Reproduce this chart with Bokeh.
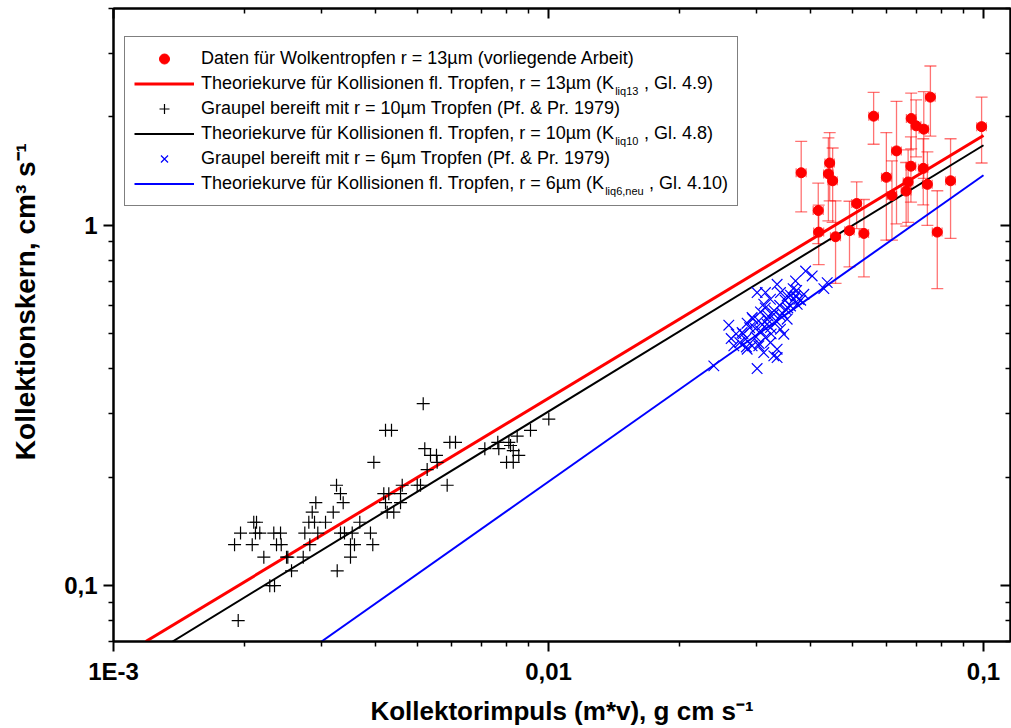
import math
from bokeh.plotting import figure
from bokeh.models import (Range1d, FixedTicker, LogAxis, Whisker, TeeHead, ColumnDataSource,
                          Legend, LegendItem, Label, CustomJSTickFormatter)
from bokeh.embed import file_html
from bokeh.resources import INLINE

# ---------------- data ----------------
red_x = [0.0381, 0.0417, 0.0418, 0.0443, 0.0440, 0.0450, 0.0457, 0.0492, 0.0511, 0.0531,
         0.0559, 0.0598, 0.0616, 0.0631, 0.0664, 0.0671, 0.0681, 0.0682, 0.0700, 0.0727,
         0.0729, 0.0743, 0.0755, 0.0783, 0.0840, 0.0990]
red_y = [1.40, 1.10, 0.958, 1.49, 1.39, 1.33, 0.93, 0.967, 1.15, 0.95,
         2.01, 1.36, 1.21, 1.61, 1.245, 1.32, 1.46, 1.98, 1.89, 1.44,
         1.85, 1.30, 2.27, 0.958, 1.33, 1.88]
red_yerr = [0.31, 0.21, 0.18, 0.32, 0.36, 0.31, 0.24, 0.20, 0.17, 0.23,
            0.33, 0.45, 0.30, 0.60, 0.25, 0.30, 0.30, 0.35, 0.34, 0.30,
            0.50, 0.30, 0.50, 0.29, 0.41, 0.39]
red_xerr = [0.0010, 0.0011, 0.0011, 0.0011, 0.0011, 0.0011, 0.0012, 0.0012, 0.0013, 0.0013,
            0.0014, 0.0015, 0.0015, 0.0016, 0.0017, 0.0017, 0.0017, 0.0017, 0.0018, 0.0018,
            0.0018, 0.0019, 0.0019, 0.0020, 0.0021, 0.0025]

black_x = [0.001898, 0.001935, 0.001959, 0.002084, 0.002101, 0.002132, 0.002120, 0.002169, 0.002216, 0.002287,
           0.002345, 0.002336, 0.002421, 0.002370, 0.002430, 0.002499, 0.002516, 0.002566, 0.002730, 0.002753,
           0.002812, 0.002827, 0.002863, 0.002898, 0.002918, 0.002949, 0.003072, 0.003200, 0.003256, 0.003268,
           0.003325, 0.003373, 0.003325, 0.003396, 0.003506, 0.003506, 0.003538, 0.003581, 0.003683, 0.003897,
           0.003945, 0.003967, 0.004182, 0.004220, 0.004258, 0.004294, 0.004220, 0.004356, 0.004409, 0.004569,
           0.004569, 0.004610, 0.004991, 0.005079, 0.005152, 0.005195, 0.005261, 0.005354, 0.005527, 0.005547,
           0.005849, 0.005931, 0.006112, 0.007139, 0.007646, 0.007687, 0.008008, 0.008107, 0.008180, 0.008298,
           0.008472, 0.008544, 0.008298, 0.009091, 0.010016]
black_y = [0.13, 0.08, 0.14, 0.13, 0.15, 0.15, 0.14, 0.14, 0.12, 0.10,
           0.10, 0.14, 0.14, 0.13, 0.13, 0.12, 0.12, 0.11, 0.12, 0.14,
           0.15, 0.13, 0.16, 0.15, 0.17, 0.14, 0.15, 0.16, 0.19, 0.11,
           0.18, 0.17, 0.14, 0.14, 0.13, 0.12, 0.14, 0.13, 0.15, 0.14,
           0.13, 0.22, 0.18, 0.17, 0.16, 0.18, 0.27, 0.27, 0.16, 0.18,
           0.17, 0.19, 0.19, 0.19, 0.32, 0.24, 0.21, 0.23, 0.23, 0.22,
           0.19, 0.25, 0.25, 0.24, 0.25, 0.24, 0.22, 0.25, 0.245, 0.237,
           0.26, 0.23, 0.22, 0.27, 0.29]

blue_x = [0.02399, 0.03017, 0.02597, 0.02630, 0.02667, 0.02753, 0.02787, 0.02862, 0.02938, 0.02990,
          0.03044, 0.03071, 0.03125, 0.03017, 0.03153, 0.03238, 0.03354, 0.03414, 0.03537, 0.03651,
          0.03697, 0.03763, 0.03863, 0.04038, 0.04295, 0.04372, 0.03153, 0.03238, 0.03354, 0.03296,
          0.03125, 0.03044, 0.03414, 0.03475, 0.03238, 0.03181, 0.03296, 0.03414, 0.03507, 0.03600,
          0.03664, 0.03730, 0.03354, 0.02938, 0.02837, 0.02862, 0.03181, 0.03071, 0.03537, 0.03697,
          0.03900, 0.0280, 0.0290, 0.0300, 0.0310, 0.0320, 0.0330, 0.0340, 0.0350, 0.0360,
          0.0345, 0.0325, 0.0305, 0.0295, 0.0315, 0.0335, 0.0355, 0.0372, 0.0380, 0.0285,
          0.0270]
blue_y = [0.4075, 0.4006, 0.5284, 0.4853, 0.4632, 0.4731, 0.5043, 0.5352, 0.5549, 0.5173,
          0.5433, 0.5754, 0.6042, 0.6510, 0.6510, 0.6238, 0.6863, 0.6510, 0.6372, 0.6676,
          0.7011, 0.6238, 0.6440, 0.7238, 0.6676, 0.6937, 0.4884, 0.4731, 0.4534, 0.4344,
          0.4437, 0.4632, 0.5151, 0.4989, 0.5206, 0.5491, 0.5669, 0.5609, 0.5852, 0.5978,
          0.6238, 0.6042, 0.4298, 0.4632, 0.4833, 0.4534, 0.5318, 0.5097, 0.5491, 0.6372,
          0.747, 0.50, 0.52, 0.49, 0.53, 0.56, 0.58, 0.60, 0.62, 0.64,
          0.57, 0.50, 0.47, 0.55, 0.59, 0.54, 0.59, 0.66, 0.62, 0.46,
          0.50]

theory13_x = [0.001186, 0.1]
theory13_y = [0.07, 1.776]
theory10_x = [0.001367, 0.1]
theory10_y = [0.07, 1.669]
theory6_x = [0.003008, 0.1]
theory6_y = [0.07, 1.378]

x_ticks = [0.001, 0.01, 0.1]
x_tick_labels = ["1E-3", "0,01", "0,1"]
y_ticks = [0.1, 1.0]
y_tick_labels = ["0,1", "1"]

x_title = "Kollektorimpuls (m*v), g cm s\u207b\u00b9"
y_title = "Kollektionskern, cm\u00b3 s\u207b\u00b9"

legend_labels = [
    ("Daten für Wolkentropfen r = 13µm (vorliegende Arbeit)", "", ""),
    ("Theoriekurve für Kollisionen fl. Tropfen, r = 13µm (K", "liq13", ", Gl. 4.9)"),
    ("Graupel bereift mit r = 10µm Tropfen (Pf. & Pr. 1979)", "", ""),
    ("Theoriekurve für Kollisionen fl. Tropfen, r = 10µm (K", "liq10", ", Gl. 4.8)"),
    ("Graupel bereift mit r = 6µm Tropfen (Pf. & Pr. 1979)", "", ""),
    ("Theoriekurve für Kollisionen fl. Tropfen, r = 6µm (K", "liq6,neu", ", Gl. 4.10)"),
]

# ---------------- layout constants ----------------
W, H = 1011, 728
FL, FT, FR, FB = 113, 8, 1010, 643          # frame edges in canvas px
frame_w, frame_h = FR - FL, FB - FT
x_lo, y_lo, y_hi = 0.001, 0.07, 4.0
x_hi = 10 ** (-1 + (FR - 983) / 435.0)

FONT = "Liberation Sans"

p = figure(width=W, height=H, x_axis_type="log", y_axis_type="log",
           x_range=Range1d(x_lo, x_hi), y_range=Range1d(y_lo, y_hi),
           output_backend="svg", toolbar_location=None,
           min_border_left=FL, min_border_right=W - FR, min_border_top=FT, min_border_bottom=H - FB)
p.xgrid.visible = False
p.ygrid.visible = False
p.outline_line_color = "black"
p.outline_line_width = 2
p.background_fill_color = "white"
p.border_fill_color = "white"

x_minor = [m * d for d in (0.001, 0.01) for m in range(2, 10)]
y_minor = [m * d for d in (0.01, 0.1, 1.0) for m in range(2, 10) if y_lo <= m * d <= y_hi]

fmt_code = """
let best = 0; let bd = 1e9;
for (let i = 0; i < tks.length; i++) {
  const d = Math.abs(Math.log10(tick) - Math.log10(tks[i]));
  if (d < bd) { bd = d; best = i; }
}
return lbls[best];
"""
x_fmt = CustomJSTickFormatter(args=dict(tks=x_ticks, lbls=x_tick_labels), code=fmt_code)
y_fmt = CustomJSTickFormatter(args=dict(tks=y_ticks, lbls=y_tick_labels), code=fmt_code)


def style_axis(ax, ticks, minor, outward, show_labels):
    ax.ticker = FixedTicker(ticks=ticks, minor_ticks=minor)
    ax.axis_line_width = 2
    ax.major_tick_line_width = 2
    ax.minor_tick_line_width = 1.5
    if outward:
        ax.major_tick_out, ax.major_tick_in = 10, 0
        ax.minor_tick_out, ax.minor_tick_in = 5, 0
    else:
        ax.major_tick_out, ax.major_tick_in = 0, 10
        ax.minor_tick_out, ax.minor_tick_in = 0, 5
    if not show_labels:
        ax.major_label_text_alpha = 0
        ax.major_label_text_font_size = "1px"
        ax.major_label_standoff = 0
    else:
        ax.major_label_text_font = FONT
        ax.major_label_text_font_style = "bold"
        ax.major_label_text_font_size = "24px"
        ax.major_label_text_color = "black"
        ax.axis_label_text_font = FONT
        ax.axis_label_text_font_style = "bold"
        ax.axis_label_text_font_size = "26px"
        ax.axis_label_text_color = "black"


xb = p.xaxis[0]
yl = p.yaxis[0]
style_axis(xb, x_ticks, x_minor, True, True)
style_axis(yl, y_ticks, y_minor, True, True)
xb.formatter = x_fmt
yl.formatter = y_fmt
xb.major_label_standoff = 6
yl.major_label_standoff = 6
xb.axis_label = x_title
xb.axis_label_standoff = 8
# leading no-break spaces lift the (centred) y title slightly, as in the reference
yl.axis_label = "\u00a0" * 6 + y_title
yl.axis_label_text_font_size = "28px"
yl.axis_label_standoff = 20

xt = LogAxis()
style_axis(xt, x_ticks, x_minor, False, False)
p.add_layout(xt, "above")
yr = LogAxis()
style_axis(yr, y_ticks, y_minor, False, False)
p.add_layout(yr, "right")

# ---------------- theory curves ----------------
l13 = p.line(theory13_x, theory13_y, line_color="#ff0000", line_width=3)
l10 = p.line(theory10_x, theory10_y, line_color="black", line_width=2)
l6 = p.line(theory6_x, theory6_y, line_color="#0000ff", line_width=2)

# ---------------- scatter data ----------------
rb = p.scatter(black_x, black_y, marker="cross", size=13, line_color="black", line_width=1.2)
rx = p.scatter(blue_x, blue_y, marker="x", size=15, line_color="#0000ff", line_width=1.2)

src = ColumnDataSource(dict(
    x=red_x, y=red_y,
    ylo=[v - e for v, e in zip(red_y, red_yerr)], yhi=[v + e for v, e in zip(red_y, red_yerr)],
    xlo=[v - e for v, e in zip(red_x, red_xerr)], xhi=[v + e for v, e in zip(red_x, red_xerr)],
))
err_col, err_alpha = "#ff0000", 0.55
wy = Whisker(base="x", upper="yhi", lower="ylo", source=src, dimension="height",
             line_color=err_col, line_alpha=err_alpha, line_width=1.3,
             upper_head=TeeHead(size=12, line_color=err_col, line_alpha=err_alpha, line_width=1.3),
             lower_head=TeeHead(size=12, line_color=err_col, line_alpha=err_alpha, line_width=1.3))
wx = Whisker(base="y", upper="xhi", lower="xlo", source=src, dimension="width",
             line_color=err_col, line_alpha=err_alpha, line_width=1.3,
             upper_head=TeeHead(size=9, line_color=err_col, line_alpha=err_alpha, line_width=1.3),
             lower_head=TeeHead(size=9, line_color=err_col, line_alpha=err_alpha, line_width=1.3))
p.add_layout(wy)
p.add_layout(wx)
rr = p.scatter("x", "y", source=src, marker="circle", size=10, fill_color="#ff0000", line_color="#ff0000")

# ---------------- legend ----------------
LEG_FS = 18
SUB_FS = 11
AW = {' ': 278, '\u00a0': 278, '(': 333, ')': 333, ',': 278, '.': 278, '=': 584, '&': 667, 'µ': 556,
      'A': 667, 'G': 778, 'K': 667, 'T': 611, 'D': 722, 'W': 944, 'P': 667,
      'a': 556, 'b': 556, 'c': 500, 'd': 556, 'e': 556, 'f': 278, 'g': 556, 'h': 556, 'i': 222,
      'k': 500, 'l': 222, 'm': 833, 'n': 556, 'o': 556, 'p': 556, 'q': 556, 'r': 333, 's': 500,
      't': 278, 'u': 556, 'v': 500, 'ü': 556}


def tw(s, fs):
    return sum(AW.get(c, 556) for c in s) * fs / 1000.0


pad, glyph_w, standoff, item_h, spacing = 9, 60, 7, 25, 0
leg_left, leg_top = 11, 32   # relative to frame top-left
n_items = len(legend_labels)
leg_height = 2 * pad + n_items * item_h + (n_items - 1) * spacing

renderer_sets = [[rr], [l13], [rb], [l10], [rx], [l6]]
items = []
for i, ((pre, sub, post), rs) in enumerate(zip(legend_labels, renderer_sets)):
    if sub:
        n = int(round(tw(sub, SUB_FS) / tw('\u00a0', LEG_FS))) + 1
        label = pre + '\u00a0' * n + post
        sx = leg_left + pad + glyph_w + standoff + tw(pre, LEG_FS) + 1
        cy = leg_top + pad + i * (item_h + spacing) + item_h / 2.0
        p.add_layout(Label(x=sx, y=frame_h - cy - 6, x_units="screen", y_units="screen", text=sub,
                           text_font=FONT, text_font_size=f"{SUB_FS}px", text_baseline="middle",
                           text_align="left", text_color="black"))
    else:
        label = pre
    items.append(LegendItem(label=label, renderers=rs))

# transparent legend body (the area behind it is empty), so the subscript labels stay visible
legend = Legend(items=items, location=(leg_left, frame_h - leg_top - leg_height),
                padding=pad, glyph_width=glyph_w, glyph_height=item_h, label_height=item_h,
                label_standoff=standoff, spacing=spacing, margin=0,
                label_text_font=FONT, label_text_font_size=f"{LEG_FS}px", label_text_color="black",
                border_line_color="black", border_line_width=1, background_fill_alpha=0.0)
p.add_layout(legend, "center")

open("out.html", "w").write(file_html(p, INLINE))
